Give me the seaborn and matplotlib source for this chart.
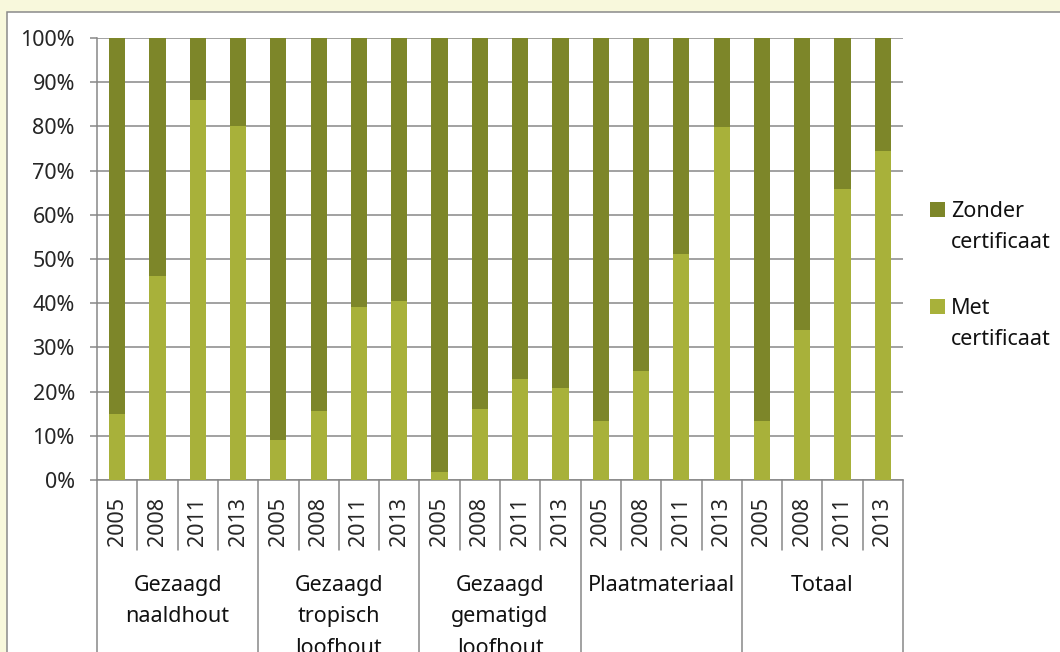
import numpy as np
import pandas as pd
import matplotlib
matplotlib.use("Agg")
import matplotlib.pyplot as plt
import seaborn as sns
from matplotlib.patches import Rectangle
from matplotlib.transforms import blended_transform_factory

# ---- data ----
groups = ["Gezaagd\nnaaldhout", "Gezaagd\ntropisch\nloofhout",
          "Gezaagd\ngematigd\nloofhout", "Plaatmateriaal", "Totaal"]
years = ["2005", "2008", "2011", "2013"]
met_certificaat = [15.0, 46.2, 86.0, 80.0,
                   9.0, 15.6, 39.1, 40.5,
                   1.7, 16.1, 22.9, 20.8,
                   13.3, 24.7, 51.1, 79.8,
                   13.3, 33.9, 65.8, 74.4]
zonder_certificaat = [85.0, 53.8, 14.0, 20.0,
                      91.0, 84.4, 60.9, 59.5,
                      98.3, 83.9, 77.1, 79.2,
                      86.7, 75.3, 48.9, 20.2,
                      86.7, 66.1, 34.2, 25.6]
series_labels = ["Zonder\ncertificaat", "Met\ncertificaat"]
y_ticks = list(range(0, 101, 10))

# ---- style ----
W, H, DPI = 1060, 652, 100
dark = "#7D8629"
light = "#A8B13A"
grey = "#878787"
cream = "#F8F8DC"
FS = 15.5
LS = 1.67
ASC = 16.4  # px from text top to first baseline

sns.set_theme(style="white")
plt.rcParams["font.family"] = ["Noto Sans", "DejaVu Sans"]
plt.rcParams["text.color"] = "#111111"

df = pd.DataFrame({
    "group": np.repeat(groups, len(years)),
    "year": years * len(groups),
    "met": met_certificaat,
    "zonder": zonder_certificaat,
})
df["key"] = df["group"] + "|" + df["year"]
df["top"] = df["met"] + df["zonder"]

fig = plt.figure(figsize=(W / DPI, H / DPI), dpi=DPI, facecolor=cream)

# white chart panel with grey border
panel = Rectangle((7 / W, -0.2), 1.2, (1 - 12 / H) + 0.2, transform=fig.transFigure,
                  facecolor="white", edgecolor="#8A8A8A", linewidth=1.1, zorder=-5)
fig.add_artist(panel)

left, right, top, bottom = 97, 903, 38, 480
ax = fig.add_axes([left / W, 1 - bottom / H, (right - left) / W, (bottom - top) / H])
ax.set_facecolor("none")

sns.barplot(data=df, x="key", y="top", color=dark, width=0.4, saturation=1,
            linewidth=0, errorbar=None, ax=ax, zorder=3)
sns.barplot(data=df, x="key", y="met", color=light, width=0.4, saturation=1,
            linewidth=0, errorbar=None, ax=ax, zorder=3)

n = len(df)
ax.set_xlim(-0.5, n - 0.5)
ax.set_ylim(0, 100)
ax.set_xlabel("")
ax.set_ylabel("")

ax.set_yticks(y_ticks)
ax.set_yticklabels([f"{v}%" for v in y_ticks], fontsize=FS)
ax.yaxis.grid(True, color=grey, linewidth=1.1)
ax.set_axisbelow(True)
ax.tick_params(axis="y", length=5, width=1.1, color=grey, pad=11, left=True)

ax.set_xticks(range(n))
ax.set_xticklabels(df["year"], rotation=90, fontsize=FS)
ax.tick_params(axis="x", length=0, pad=12)

for s in ["top", "right"]:
    ax.spines[s].set_visible(False)
for s in ["left", "bottom"]:
    ax.spines[s].set_color(grey)
    ax.spines[s].set_linewidth(1.1)

# multi-level category separators
axes_h_px = bottom - top
trans = blended_transform_factory(ax.transData, ax.transAxes)
for i in range(n + 1):
    xpos = i - 0.5
    if i % len(years) == 0:
        ymin = -(H - bottom + 20) / axes_h_px
    else:
        ymin = -70 / axes_h_px
    ax.plot([xpos, xpos], [0, ymin], transform=trans, color=grey,
            linewidth=1.1, clip_on=False, zorder=2)

# group labels
trans_g = blended_transform_factory(ax.transData, fig.transFigure)
for gi, g in enumerate(groups):
    xc = gi * len(years) + (len(years) - 1) / 2
    ax.text(xc, 1 - (591 - ASC) / H, g, transform=trans_g, ha="center", va="top",
            fontsize=FS, linespacing=LS, clip_on=False)

# legend
colors = [dark, light]
sq_top = [202, 299]
for lab, col, yt in zip(series_labels, colors, sq_top):
    fig.add_artist(Rectangle((930 / W, 1 - (yt + 15) / H), 15 / W, 15 / H,
                             transform=fig.transFigure, facecolor=col,
                             edgecolor="none"))
    fig.text(951 / W, 1 - (yt + 15 - ASC) / H, lab, ha="left", va="top",
             fontsize=FS, linespacing=LS)

fig.savefig("out.png", dpi=DPI)
